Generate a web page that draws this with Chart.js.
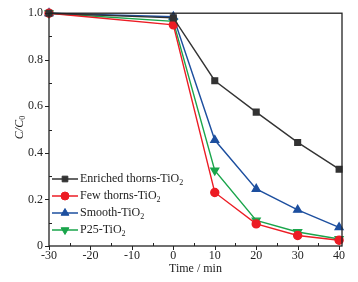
<!DOCTYPE html>
<html>
<head>
<meta charset="utf-8">
<script src="https://cdn.jsdelivr.net/npm/chart.js@4"></script>
<style>
  html, body { margin: 0; padding: 0; background: #fff; }
  #wrap { width: 358px; height: 282px; }
</style>
</head>
<body>
<div id="wrap"><canvas id="kineticsChart"></canvas></div>
<script>
// data
const timeMin = [-30, 0, 10, 20, 30, 40];
const enriched = [1.0, 0.98, 0.71, 0.575, 0.445, 0.33];
const fewThorns = [1.0, 0.95, 0.23, 0.095, 0.045, 0.025];
const smooth = [1.0, 0.985, 0.455, 0.245, 0.155, 0.08];
const p25 = [1.0, 0.965, 0.325, 0.11, 0.06, 0.03];
const seriesNames = ['Enriched thorns-TiO', 'Few thorns-TiO', 'Smooth-TiO', 'P25-TiO'];
const xTicks = [-30, -20, -10, 0, 10, 20, 30, 40];
const yTicks = [0, 0.2, 0.4, 0.6, 0.8, 1.0];

const FONT = "'Liberation Serif', 'Times New Roman', serif";

function pts(vals) {
    return timeMin.map((t, i) => ({ x: t, y: vals[i] }));
}

// box, major (outward) / minor (inward) ticks, y title and legend drawn by hand
const framePlugin = {
    id: 'frame',
    afterDraw(chart) {
        const ctx = chart.ctx;
        const a = chart.chartArea;
        const xs = chart.scales.x, ys = chart.scales.y;
        ctx.save();
        ctx.strokeStyle = '#222';
        ctx.lineWidth = 1.3;
        ctx.strokeRect(a.left, a.top, a.right - a.left, a.bottom - a.top);

        ctx.lineWidth = 1;
        ctx.beginPath();
        for (let v = -30; v <= 40; v += 5) {
            const px = Math.round(xs.getPixelForValue(v)) + 0.5;
            if (v % 10 === 0) {
                ctx.moveTo(px, a.bottom);
                ctx.lineTo(px, a.bottom + 4);
            } else {
                ctx.moveTo(px, a.bottom);
                ctx.lineTo(px, a.bottom - 3);
            }
        }
        for (let i = 0; i <= 10; i++) {
            const py = Math.round(ys.getPixelForValue(i / 10)) + 0.5;
            if (i % 2 === 0) {
                ctx.moveTo(a.left, py);
                ctx.lineTo(a.left - 4, py);
            } else {
                ctx.moveTo(a.left, py);
                ctx.lineTo(a.left + 3, py);
            }
        }
        ctx.stroke();

        // y axis title C/C0
        ctx.save();
        ctx.translate(20, 127);
        ctx.rotate(-Math.PI / 2);
        ctx.fillStyle = '#222';
        ctx.font = 'italic 12px ' + FONT;
        ctx.textBaseline = 'middle';
        ctx.textAlign = 'left';
        const w1 = ctx.measureText('C/C').width;
        const total = w1 + 5;
        ctx.fillText('C/C', -total / 2, 0);
        ctx.font = '8px ' + FONT;
        ctx.fillText('0', -total / 2 + w1, 3);
        ctx.restore();

        // legend
        const ly0 = 179, step = 17;
        chart.data.datasets.forEach((ds, i) => {
            const y = ly0 + i * step;
            ctx.strokeStyle = ds.borderColor;
            ctx.fillStyle = ds.borderColor;
            ctx.lineWidth = 1.5;
            ctx.beginPath();
            ctx.moveTo(52, y);
            ctx.lineTo(78, y);
            ctx.stroke();
            ctx.lineWidth = 1;
            Chart.helpers.drawPoint(ctx, {
                pointStyle: ds.pointStyle,
                rotation: ds.pointRotation || 0,
                radius: ds.pointRadius,
                borderWidth: 1
            }, 65, y);
            ctx.fillStyle = '#222';
            ctx.font = '12px ' + FONT;
            ctx.textAlign = 'left';
            ctx.textBaseline = 'middle';
            const name = seriesNames[i];
            ctx.fillText(name, 80, y);
            const tw = ctx.measureText(name).width;
            ctx.font = '8px ' + FONT;
            ctx.fillText('2', 80 + tw, y + 4);
        });
        ctx.restore();
    }
};

function makeDataset(label, vals, color, style, rot, r) {
    return {
        label: label,
        data: pts(vals),
        borderColor: color,
        backgroundColor: color,
        pointBackgroundColor: color,
        pointBorderColor: color,
        pointStyle: style,
        pointRotation: rot,
        pointRadius: r,
        borderWidth: 1.4,
        tension: 0
    };
}

new Chart(document.getElementById('kineticsChart'), {
    type: 'line',
    data: {
        datasets: [
            makeDataset(seriesNames[0] + '2', enriched, '#333333', 'rect', 0, 4),
            makeDataset(seriesNames[1] + '2', fewThorns, '#ec1c24', 'circle', 0, 4),
            makeDataset(seriesNames[2] + '2', smooth, '#1d4f9f', 'triangle', 0, 4.5),
            makeDataset(seriesNames[3] + '2', p25, '#1aa54b', 'triangle', 180, 4.5)
        ]
    },
    options: {
        responsive: true,
        maintainAspectRatio: false,
        animation: false,
        clip: false,
        layout: { padding: { top: 9, right: 16, left: 0, bottom: 0 } },
        plugins: {
            legend: { display: false },
            tooltip: { enabled: false }
        },
        scales: {
            x: {
                type: 'linear',
                min: -30,
                max: 40.7,
                grid: { display: false, drawTicks: false },
                border: { display: false },
                afterFit: (s) => { s.height = 36; },
                afterBuildTicks: (s) => { s.ticks = xTicks.map(v => ({ value: v })); },
                ticks: {
                    padding: 3,
                    color: '#222',
                    maxRotation: 0,
                    autoSkip: false,
                    font: { family: FONT, size: 12 },
                    callback: (v) => String(v)
                },
                title: {
                    display: true,
                    text: 'Time / min',
                    color: '#222',
                    font: { family: FONT, size: 12 },
                    padding: { top: 0, bottom: 6 }
                }
            },
            y: {
                min: 0,
                max: 1,
                grid: { display: false, drawTicks: false },
                border: { display: false },
                afterFit: (s) => { s.width = 49; },
                afterBuildTicks: (s) => { s.ticks = yTicks.map(v => ({ value: v })); },
                ticks: {
                    padding: 6,
                    color: '#222',
                    autoSkip: false,
                    font: { family: FONT, size: 12 },
                    callback: (v) => v === 0 ? '0' : v.toFixed(1)
                }
            }
        }
    },
    plugins: [framePlugin]
});
</script>
</body>
</html>
